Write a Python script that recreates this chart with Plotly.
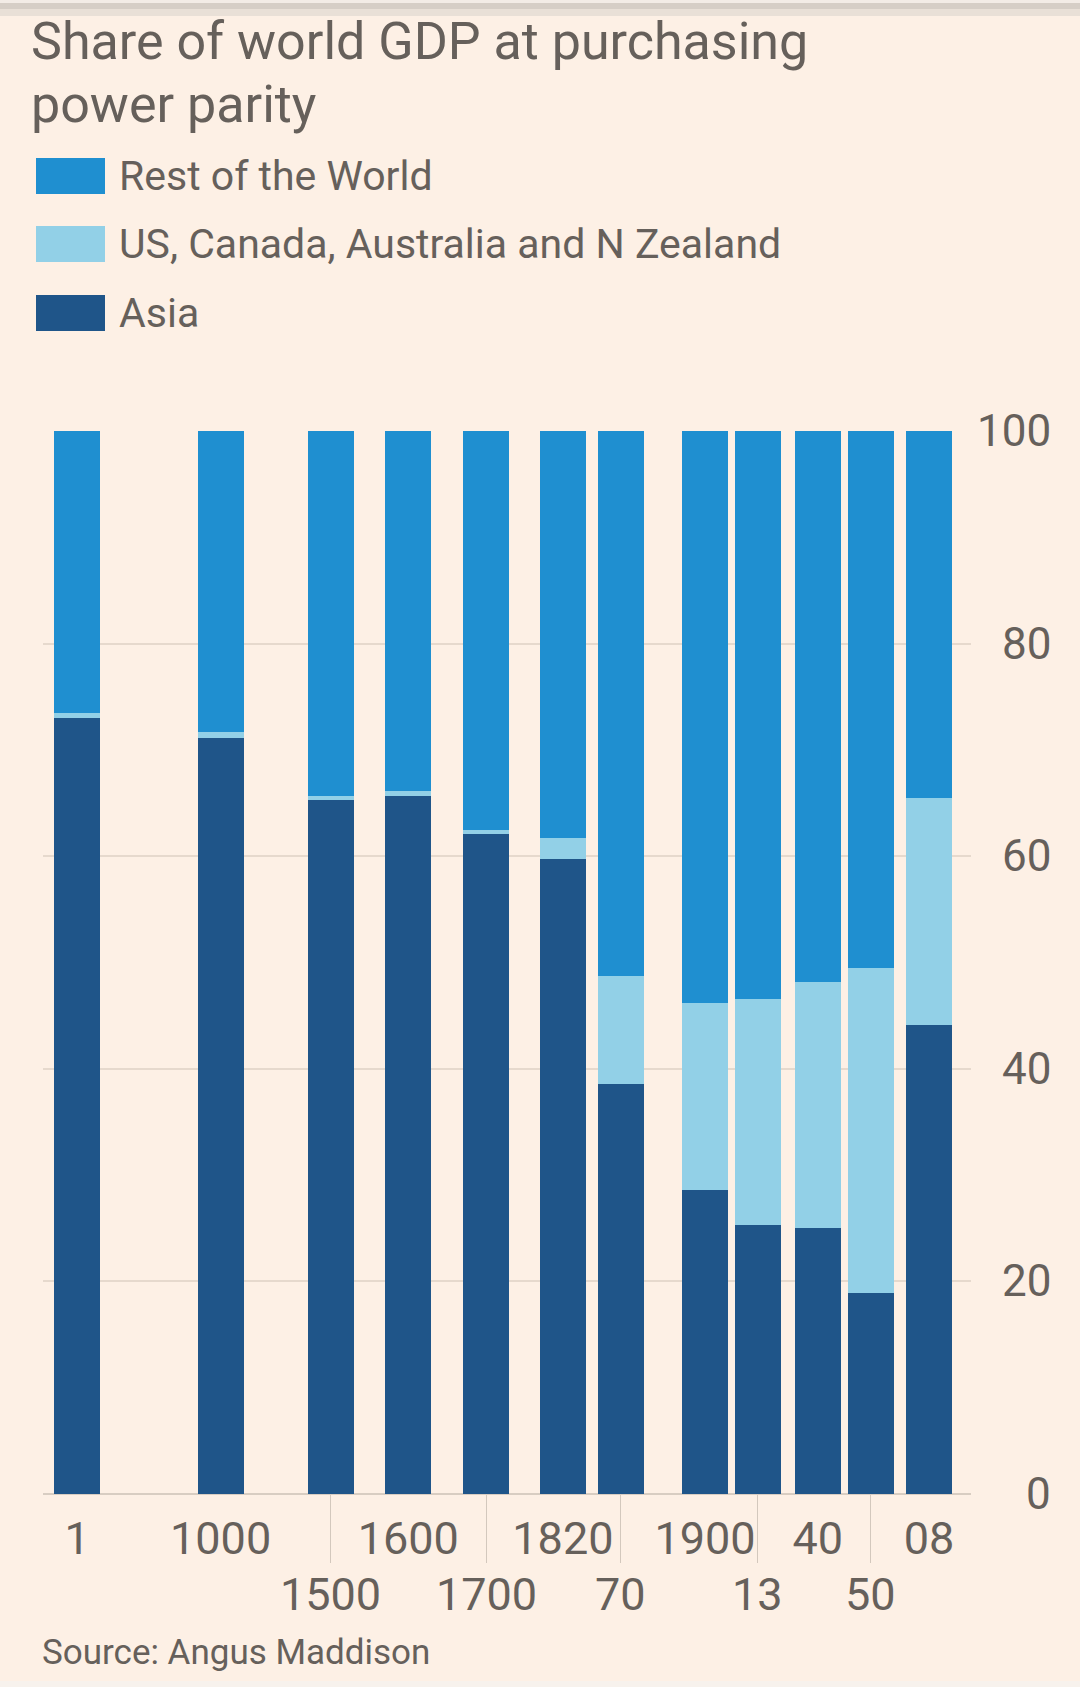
import plotly.graph_objects as go

# ---------------- data ----------------
years = ["1", "1000", "1500", "1600", "1700", "1820", "1870", "1900", "1913", "1940", "1950", "2008"]
asia = [73.0, 71.1, 65.3, 65.7, 62.1, 59.7, 38.6, 28.6, 25.3, 25.0, 18.9, 44.1]
offshoots = [0.5, 0.55, 0.4, 0.4, 0.35, 2.0, 10.1, 17.6, 21.3, 23.2, 30.6, 21.4]
rest = [26.5, 28.35, 34.3, 33.9, 37.55, 38.3, 51.3, 53.8, 53.4, 51.8, 50.5, 34.5]
row1_idx = [0, 1, 3, 5, 7, 9, 11]
row1_labels = ["1", "1000", "1600", "1820", "1900", "40", "08"]
row2_idx = [2, 4, 6, 8, 10]
row2_labels = ["1500", "1700", "70", "13", "50"]
y_ticks = [0, 20, 40, 60, 80, 100]
series_names = ["Rest of the World", "US, Canada, Australia and N Zealand", "Asia"]
title_lines = ["Share of world GDP at purchasing", "power parity"]

# ---------------- layout / style ----------------
bar_slots = [0.74, 3.86, 6.25, 7.94, 9.63, 11.3, 12.56, 14.39, 15.54, 16.84, 17.99, 19.26]
x_range = [0, 20.17]
BG = "#fdf0e5"
TXT = "#66605b"
GRID = "#e6d9cd"
C_REST = "#1f8fd0"
C_US = "#92d0e7"
C_ASIA = "#1f5589"
FONT = "Roboto"

W, H = 1080, 1687
ML, MR, MT, MB = 43, 109, 431, 193
PW = W - ML - MR
PH = H - MT - MB


def px_x(px):
    return (px - ML) / PW


def px_y(py):
    return (H - MB - py) / PH


fig = go.Figure()
fig.add_trace(go.Bar(x=bar_slots, y=asia, name=series_names[2], marker_color=C_ASIA,
                     marker_line_width=0, width=1, showlegend=False))
fig.add_trace(go.Bar(x=bar_slots, y=offshoots, name=series_names[1], marker_color=C_US,
                     marker_line_width=0, width=1, showlegend=False))
fig.add_trace(go.Bar(x=bar_slots, y=rest, name=series_names[0], marker_color=C_REST,
                     marker_line_width=0, width=1, showlegend=False))
# carrier trace for the second (staggered) tick row
fig.add_trace(go.Scatter(x=[], y=[], xaxis="x2", showlegend=False, hoverinfo="skip"))

shapes = []
annotations = []

# title (two lines)
for line, cy in zip(title_lines, [41, 104]):
    annotations.append(dict(text=line, xref="paper", yref="paper", x=px_x(29), y=px_y(cy),
                            xanchor="left", yanchor="middle", align="left", showarrow=False,
                            font=dict(family=FONT, size=52, color=TXT)))

# manual legend
legend_items = [(series_names[0], C_REST, 176), (series_names[1], C_US, 244), (series_names[2], C_ASIA, 313)]
for name, col, cy in legend_items:
    shapes.append(dict(type="rect", xref="paper", yref="paper",
                       x0=px_x(36), x1=px_x(105), y0=px_y(cy - 18), y1=px_y(cy + 18),
                       fillcolor=col, line_width=0))
    annotations.append(dict(text=name, xref="paper", yref="paper", x=px_x(117), y=px_y(cy),
                            xanchor="left", yanchor="middle", showarrow=False,
                            font=dict(family=FONT, size=41, color=TXT)))

# right-aligned y tick labels
for v in y_ticks:
    annotations.append(dict(text=str(v), xref="paper", yref="y", x=1, xshift=82, y=v,
                            xanchor="right", yanchor="middle", showarrow=False,
                            font=dict(family=FONT, size=44, color=TXT)))

# second row of x labels (staggered)
for i, lab in zip(row2_idx, row2_labels):
    annotations.append(dict(text=lab, xref="x", yref="paper", x=bar_slots[i], y=px_y(1594),
                            xanchor="center", yanchor="middle", showarrow=False,
                            font=dict(family=FONT, size=45, color=TXT)))

# source
annotations.append(dict(text="Source: Angus Maddison", xref="paper", yref="paper",
                        x=px_x(40), y=px_y(1652), xanchor="left", yanchor="middle",
                        showarrow=False, font=dict(family=FONT, size=35, color=TXT)))

# top shadow and bottom strip (page frame)
shapes.append(dict(type="rect", xref="paper", yref="paper", x0=px_x(0), x1=px_x(W),
                   y0=px_y(0), y1=px_y(3), fillcolor="#f3ece6", line_width=0, layer="above"))
shapes.append(dict(type="rect", xref="paper", yref="paper", x0=px_x(0), x1=px_x(W),
                   y0=px_y(3), y1=px_y(9), fillcolor="#d6cec6", line_width=0, layer="above"))
shapes.append(dict(type="rect", xref="paper", yref="paper", x0=px_x(0), x1=px_x(W),
                   y0=px_y(9), y1=px_y(16), fillcolor="#e9e0d7", line_width=0, layer="above"))
shapes.append(dict(type="rect", xref="paper", yref="paper", x0=px_x(0), x1=px_x(W),
                   y0=px_y(1681), y1=px_y(H), fillcolor="#f7f2ed", line_width=0, layer="above"))

fig.update_layout(
    width=W, height=H,
    margin=dict(l=ML, r=MR, t=MT, b=MB),
    paper_bgcolor=BG, plot_bgcolor=BG,
    barmode="stack",
    showlegend=False,
    xaxis=dict(range=x_range, showgrid=False, zeroline=False, showline=False,
               tickmode="array", tickvals=[bar_slots[i] for i in row1_idx], ticktext=row1_labels,
               ticks="", ticklabelstandoff=14,
               tickfont=dict(family=FONT, size=45, color=TXT)),
    xaxis2=dict(range=x_range, overlaying="x", anchor="y", side="bottom",
                showgrid=False, zeroline=False, showline=False,
                tickmode="array", tickvals=[bar_slots[i] for i in row2_idx],
                showticklabels=False,
                ticks="outside", ticklen=68, tickwidth=1, tickcolor="#d3c8bd"),
    yaxis=dict(range=[0, 100], tickvals=y_ticks, showticklabels=False, side="right",
               showgrid=True, gridcolor=GRID, gridwidth=2, zeroline=True,
               zerolinecolor="#d8cdc2", zerolinewidth=2, showline=False, ticks=""),
    shapes=shapes,
    annotations=annotations,
)

fig.write_html("out.html", config={"displayModeBar": False},
               post_script="document.body.style.margin='0';document.body.style.background='#fdf0e5';")
